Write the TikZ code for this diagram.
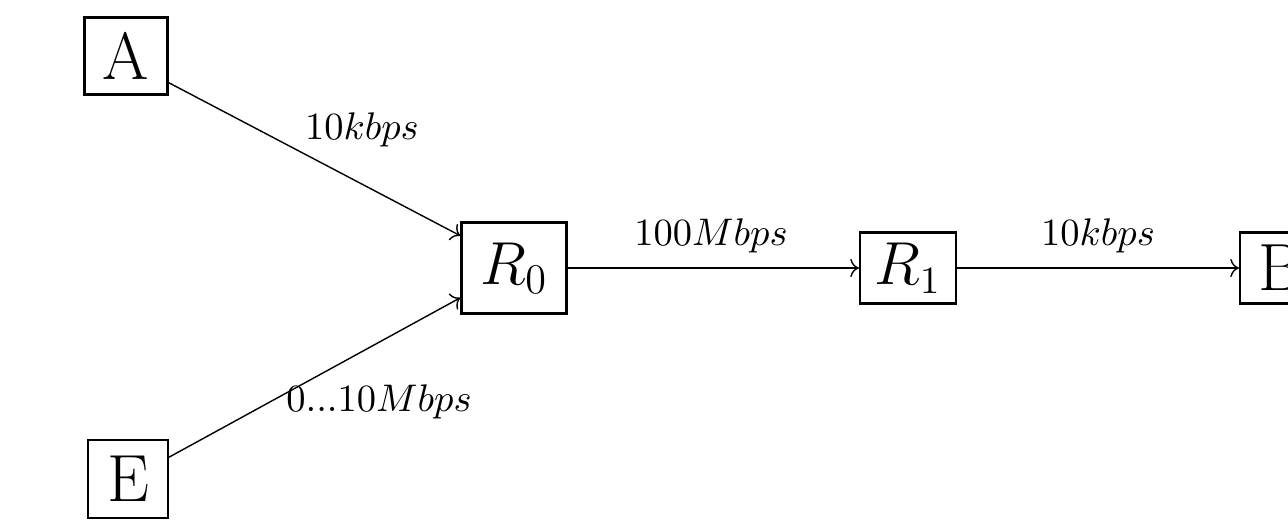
\documentclass[tikz,border=0pt]{standalone}
\usepackage{amsmath}
\usepackage{tikz}
\usetikzlibrary{positioning, arrows.meta, calc}

\begin{document}
\begin{tikzpicture}[
  hostbox/.style={draw, semithick, inner sep=0pt,
              font=\fontsize{19}{21}\selectfont},
  routerbox/.style={draw, semithick, inner sep=0pt},
  rate/.style={font=\fontsize{10.7}{12}\selectfont, inner sep=1pt},
  arr/.style={->, thin}
]
\useasboundingbox (0,0) rectangle (12.88,5.25);

\node[hostbox, minimum width=0.83cm, minimum height=0.77cm] (srcA) at (1.26,4.69) {A};
\node[hostbox, minimum width=0.80cm, minimum height=0.78cm] (srcE) at (1.28,0.46) {E};
\node[routerbox, minimum width=1.05cm, minimum height=0.91cm,
      font=\fontsize{18}{20}\selectfont] (r0) at (5.14,2.57) {$R_0$};
\node[routerbox, minimum width=0.96cm, minimum height=0.71cm,
      font=\fontsize{16}{18}\selectfont] (r1) at (9.08,2.57) {$R_1$};
\node[hostbox, minimum width=0.80cm, minimum height=0.71cm] (dstB) at (12.80,2.57) {B};

\draw[arr] (srcA.-32) -- (r0.149);
\draw[arr] (srcE.28) -- (r0.209);
\draw[arr] (r0) -- (r1);
\draw[arr] (r1) -- (dstB);

\node[rate] (rateA) at (3.62,3.95) {$10kbps$};
\node[rate] (rateE) at (3.79,1.23) {$0...10Mbps$};
\node[rate] (rate01) at (7.11,2.89) {$100Mbps$};
\node[rate] (rate1B) at (10.98,2.89) {$10kbps$};
\end{tikzpicture}
\end{document}
